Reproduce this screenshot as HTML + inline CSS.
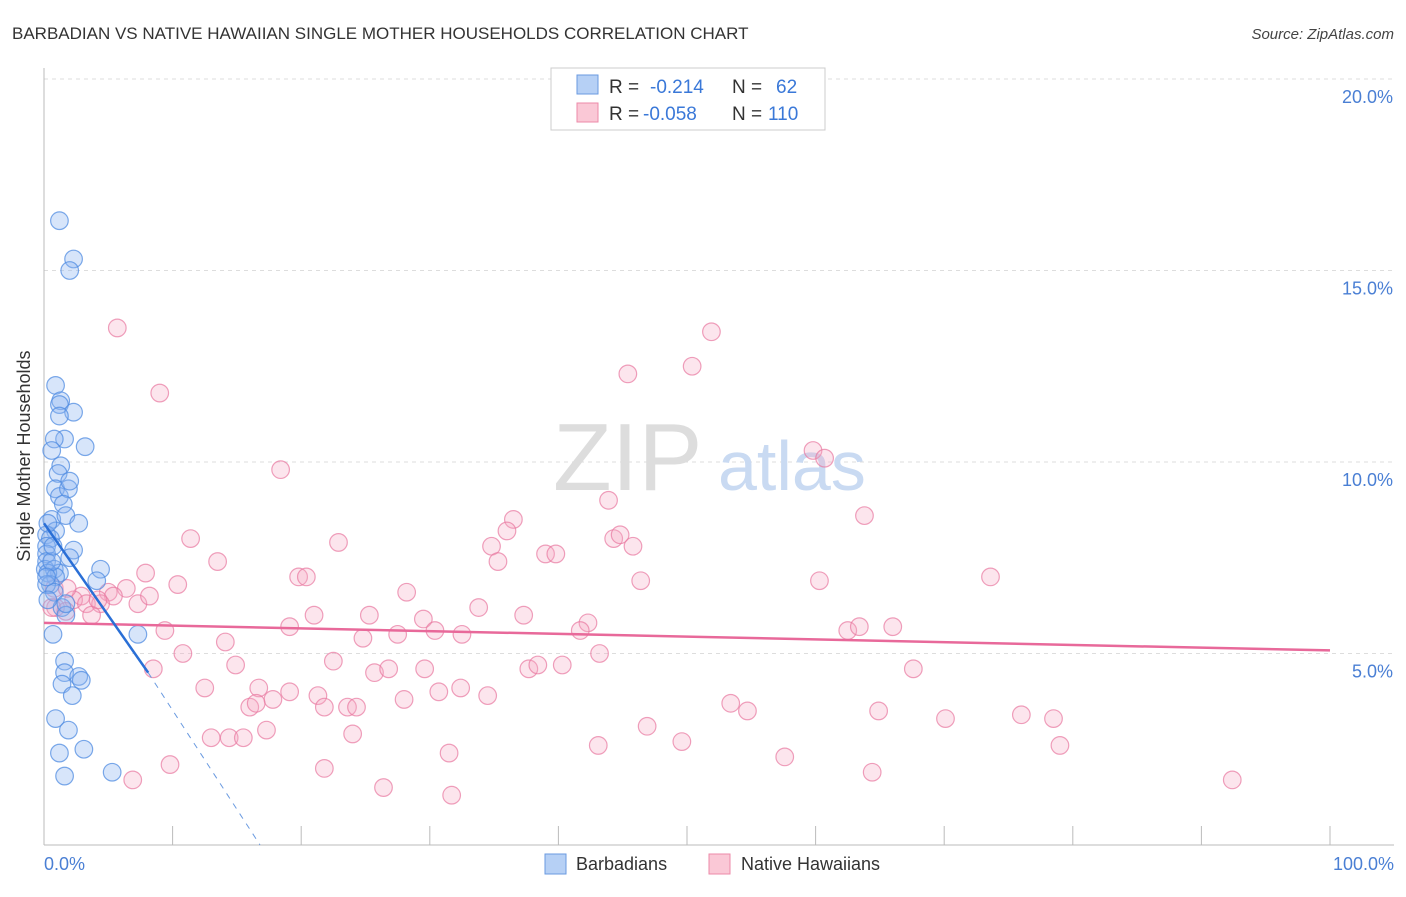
<!DOCTYPE html>
<html><head><meta charset="utf-8"><style>
body{margin:0;background:#fff;font-family:"Liberation Sans",sans-serif}
svg text{font-family:"Liberation Sans",sans-serif}
</style></head><body>
<svg width="1406" height="892" xmlns="http://www.w3.org/2000/svg">
<text x="12" y="39" font-size="17" fill="#333">BARBADIAN VS NATIVE HAWAIIAN SINGLE MOTHER HOUSEHOLDS CORRELATION CHART</text>
<text x="1394" y="39" font-size="15" fill="#444" text-anchor="end" font-style="italic">Source: ZipAtlas.com</text>
<g id="grid"></g>
<line x1="44" y1="68" x2="44" y2="845" stroke="#bbb"/>
<line x1="44" y1="845" x2="1394" y2="845" stroke="#bbb"/>
<text x="30" y="456" font-size="18" fill="#333" text-anchor="middle" transform="rotate(-90 30 456)">Single Mother Households</text>
<text x="553" y="490" font-size="96" fill="#ddd" font-family="Liberation Serif">ZIP</text>
<text x="718" y="490" font-size="70" fill="#c9daf2">atlas</text>
<g id="pts"></g>
<g id="lines"></g>
<text x="44" y="870" font-size="18" fill="#4a7fd4">0.0%</text>
<text x="1394" y="870" font-size="18" fill="#4a7fd4" text-anchor="end">100.0%</text>
<g>
<rect x="551" y="68" width="274" height="62" fill="#fff" stroke="#ccc"/>
<rect x="577" y="75" width="21" height="19" fill="#b6d0f5" stroke="#6a9ae0"/>
<rect x="577" y="103" width="21" height="19" fill="#fac8d6" stroke="#ec8aa8"/>
<text x="609" y="93" font-size="19" fill="#333">R =</text><text x="650" y="93" font-size="19" fill="#3a78d8">-0.214</text>
<text x="732" y="93" font-size="19" fill="#333">N =</text><text x="776" y="93" font-size="19" fill="#3a78d8">62</text>
<text x="609" y="120" font-size="19" fill="#333">R =</text><text x="643" y="120" font-size="19" fill="#3a78d8">-0.058</text>
<text x="732" y="120" font-size="19" fill="#333">N =</text><text x="768" y="120" font-size="19" fill="#3a78d8">110</text>
</g>
<g>
<rect x="545" y="854" width="21" height="20" fill="#b6d0f5" stroke="#6a9ae0"/>
<text x="576" y="870" font-size="18" fill="#333">Barbadians</text>
<rect x="709" y="854" width="21" height="20" fill="#fac8d6" stroke="#ec8aa8"/>
<text x="741" y="870" font-size="18" fill="#333">Native Hawaiians</text>
</g>
</svg>
<script>
const yTicks=[5,10,15,20];
const xTickPcts=[10,20,30,40,50,60,70,80,90,100];
const blueX=[1.2,2.3,2,0.9,1.3,1.2,2.3,1.2,1.6,0.8,3.2,0.6,1.3,1.1,0.9,1.2,1.9,1.5,0.6,1.7,2.7,0.9,0.2,0.5,0.2,2.3,2,0.2,0.2,0.1,0.8,1.2,0.3,4.4,4.1,0.9,0.5,0.2,1.4,1.7,0.7,7.3,1.6,1.6,2.7,2.9,1.4,2.2,0.9,1.9,1.2,3.1,1.6,5.3,0.8,0.3,1.7,0.6,0.3,2,0.2,0.7];
const blueY=[16.3,15.3,15,12,11.6,11.5,11.3,11.2,10.6,10.6,10.4,10.3,9.9,9.7,9.3,9.1,9.3,8.9,8.5,8.6,8.4,8.2,8.1,8,7.8,7.7,7.5,7.6,7.4,7.2,7.2,7.1,7.1,7.2,6.9,7,6.8,6.8,6.2,6,5.5,5.5,4.8,4.5,4.4,4.3,4.2,3.9,3.3,3,2.4,2.5,1.8,1.9,6.6,6.4,6.3,7.4,8.4,9.5,7,7.8];
const pinkX=[5.7,9,18.4,51.9,45.4,50.4,59.8,60.7,63.8,43.9,36.5,36,34.8,35.3,39,39.8,44.3,44.8,45.8,46.4,60.3,73.6,11.4,13.5,22.9,19.8,20.4,28.2,7.9,10.4,6.4,5,2.9,2.3,3.3,5.4,7.3,4.4,3.7,0.9,0.6,0.8,1.8,21,25.3,29.5,33.8,37.3,42.3,41.7,30.4,32.5,27.5,24.8,19.1,9.4,14.1,10.8,14.9,22.5,25.7,26.8,29.6,37.7,38.4,40.3,43.2,62.5,63.4,66,67.6,8.5,12.5,16.7,19.1,21.3,17.8,30.7,32.4,34.5,28,16,16.5,21.8,23.6,24.3,17.3,13,14.4,15.5,24,46.9,53.4,54.7,64.9,70.1,76,78.5,79,49.6,43.1,31.5,57.6,9.8,21.8,64.4,6.9,26.4,31.7,92.4,4.2,8.2,1.7];
const pinkY=[13.5,11.8,9.8,13.4,12.3,12.5,10.3,10.1,8.6,9,8.5,8.2,7.8,7.4,7.6,7.6,8,8.1,7.8,6.9,6.9,7,8,7.4,7.9,7,7,6.6,7.1,6.8,6.7,6.6,6.5,6.4,6.3,6.5,6.3,6.3,6,6.2,6.2,6.7,6.7,6,6,5.9,6.2,6,5.8,5.6,5.6,5.5,5.5,5.4,5.7,5.6,5.3,5,4.7,4.8,4.5,4.6,4.6,4.6,4.7,4.7,5,5.6,5.7,5.7,4.6,4.6,4.1,4.1,4,3.9,3.8,4,4.1,3.9,3.8,3.6,3.7,3.6,3.6,3.6,3,2.8,2.8,2.8,2.9,3.1,3.7,3.5,3.5,3.3,3.4,3.3,2.6,2.7,2.6,2.4,2.3,2.1,2,1.9,1.7,1.5,1.3,1.7,6.4,6.5,6.1];
const blueLine=[0,8.4,8.1,4.5];
const blueDash=[8.1,4.5,16.8,0];
const pinkLine=[0,5.8,100,5.08];
const NS="http://www.w3.org/2000/svg";
const X=v=>44+v*12.86, Y=v=>845-v*38.3;
const grid=document.getElementById('grid'),pts=document.getElementById('pts'),lines=document.getElementById('lines');
yTicks.forEach(t=>{
 const l=document.createElementNS(NS,'line');
 l.setAttribute('x1',44);l.setAttribute('x2',1394);l.setAttribute('y1',Y(t));l.setAttribute('y2',Y(t));
 l.setAttribute('stroke','#ddd');l.setAttribute('stroke-dasharray','4,4');
 
 
 grid.appendChild(l);
 const tx=document.createElementNS(NS,'text');
 tx.setAttribute('x',1393);tx.setAttribute('y',Y(t)+24);tx.setAttribute('text-anchor','end');
 tx.setAttribute('font-size','18');tx.setAttribute('fill','#4a7fd4');tx.textContent=t.toFixed(1)+'%';
 
 
 grid.appendChild(tx);
});
xTickPcts.forEach(t=>{
 const l=document.createElementNS(NS,'line');
 l.setAttribute('x1',X(t));l.setAttribute('x2',X(t));l.setAttribute('y1',826);l.setAttribute('y2',845);
 l.setAttribute('stroke','#bbb');
 
 
 grid.appendChild(l);
});
function dots(xs,ys,fill,stroke,name){
 xs.forEach((x,i)=>{
  const c=document.createElementNS(NS,'circle');
  c.setAttribute('cx',X(x));c.setAttribute('cy',Y(ys[i]));c.setAttribute('r',8.8);
  c.setAttribute('fill',fill);c.setAttribute('stroke',stroke);c.setAttribute('stroke-width','1.2');
  
  
  pts.appendChild(c);
 });
}
dots(pinkX,pinkY,'rgba(246,170,195,0.3)','rgba(232,120,160,0.7)','native-hawaiian-point');
dots(blueX,blueY,'rgba(140,180,240,0.35)','rgba(80,140,225,0.75)','barbadian-point');
function ln(a,color,w,dash,name){
 const l=document.createElementNS(NS,'line');
 l.setAttribute('x1',X(a[0]));l.setAttribute('y1',Y(a[1]));l.setAttribute('x2',X(a[2]));l.setAttribute('y2',Y(a[3]));
 l.setAttribute('stroke',color);l.setAttribute('stroke-width',w);if(dash)l.setAttribute('stroke-dasharray',dash);
 
 
 lines.appendChild(l);
}
ln(pinkLine,'#e8699a',2.5,null,'native-hawaiian-trendline');
ln(blueLine,'#2a6fd6',2.5,null,'barbadian-trendline');
ln(blueDash,'#6a9ae0',1,'6,6','barbadian-trendline-extension');
</script>
</body></html>
